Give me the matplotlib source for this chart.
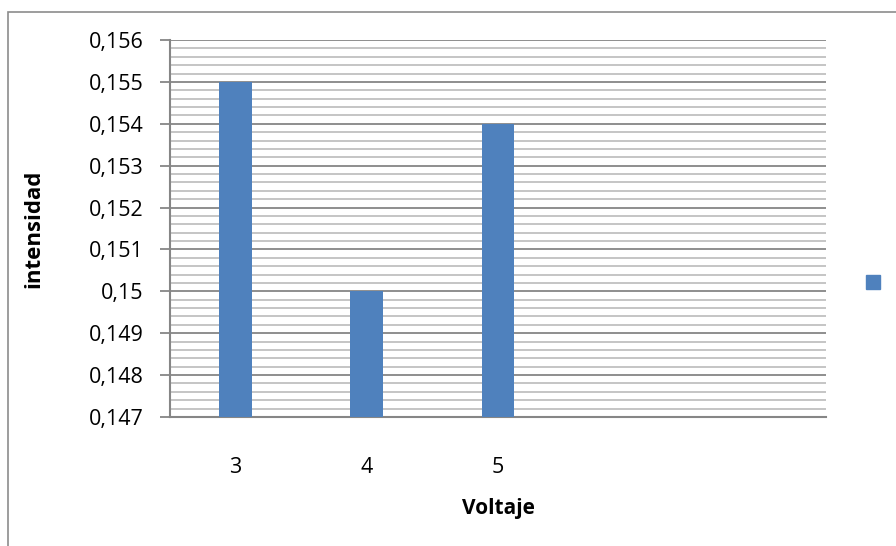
import matplotlib
matplotlib.use("Agg")
import matplotlib.pyplot as plt
from matplotlib.ticker import MultipleLocator, FuncFormatter
from matplotlib.patches import Rectangle
from matplotlib.transforms import blended_transform_factory

categories = ["3", "4", "5", "", ""]
intensidad = [0.155, 0.150, 0.154, None, None]
y_min, y_max = 0.147, 0.156

bar_color = "#4f81bd"
major_grid = "#868686"
minor_grid = "#c0c0c0"

plt.rcParams["font.family"] = ["Open Sans", "DejaVu Sans"]

fig = plt.figure(figsize=(8.96, 5.46), dpi=100)
ax = fig.add_axes([170 / 896, 1 - 417 / 546, 656 / 896, 377 / 546])

xs = list(range(len(categories)))
for x, v in zip(xs, intensidad):
    if v is not None:
        ax.bar(x, v - y_min, bottom=y_min, width=0.25, color=bar_color, zorder=3)

ax.set_xlim(-0.5, len(categories) - 0.5)
ax.set_ylim(y_min, y_max)
ax.set_xticks(xs)
ax.set_xticklabels(categories)
ax.yaxis.set_major_locator(MultipleLocator(0.001))
ax.yaxis.set_minor_locator(MultipleLocator(0.0002))
ax.yaxis.set_major_formatter(FuncFormatter(lambda v, p: f"{v:.3f}".rstrip("0").replace(".", ",")))

ax.grid(which="major", axis="y", color=major_grid, linewidth=1.3, zorder=1)
ax.grid(which="minor", axis="y", color=minor_grid, linewidth=1.3, zorder=1)

for s in ["top", "right"]:
    ax.spines[s].set_visible(False)
for s in ["left", "bottom"]:
    ax.spines[s].set_color(major_grid)
    ax.spines[s].set_linewidth(1.5)

ax.tick_params(axis="y", which="major", length=7, width=1.3, color=major_grid,
               labelsize=15.5, pad=12)
ax.tick_params(axis="y", which="minor", length=0)
ax.tick_params(axis="x", length=0, labelsize=15.5, pad=29)

ax.set_xlabel("Voltaje", fontsize=15, fontweight="bold", labelpad=14)
ax.set_ylabel("intensidad", fontsize=16, fontweight="bold")
ax.yaxis.set_label_coords(44 / 896, 0.5,
                          transform=blended_transform_factory(fig.transFigure, ax.transAxes))

# legend key without a label
fig.patches.append(Rectangle((866 / 896, 1 - 289 / 546), 14 / 896, 14 / 546,
                             transform=fig.transFigure, color=bar_color))
# chart outer border
fig.patches.append(Rectangle((8 / 896, -0.1), 1.2, 1.1 - 12 / 546,
                             transform=fig.transFigure, fill=False,
                             edgecolor="#8c8c8c", linewidth=1.2))

fig.savefig("out.png", dpi=100)
